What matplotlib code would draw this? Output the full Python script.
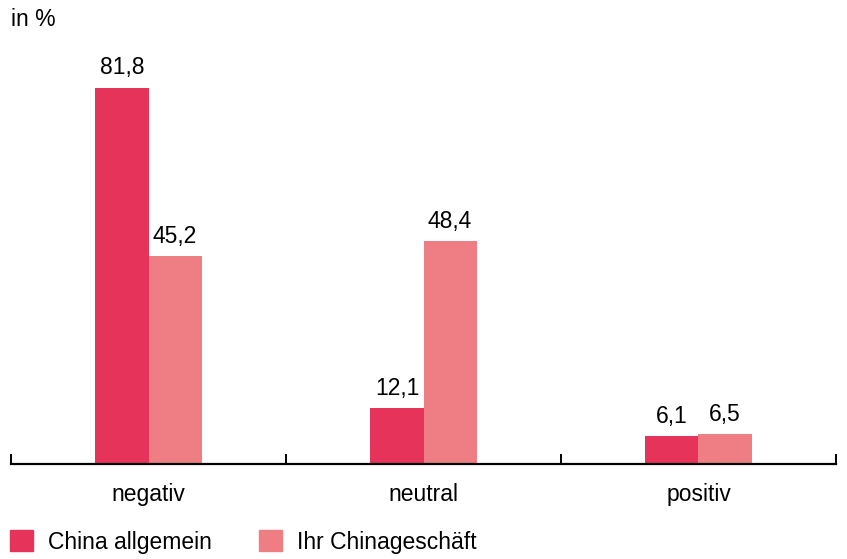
import numpy as np
import matplotlib.pyplot as plt
from matplotlib.patches import Patch

plt.rcParams['font.family'] = ['Liberation Sans', 'DejaVu Sans']

categories = ["negativ", "neutral", "positiv"]
china_allgemein = [81.8, 12.1, 6.1]
ihr_chinageschaeft = [45.2, 48.4, 6.5]
series_names = ["China allgemein", "Ihr Chinageschäft"]
colors = ["#E5335A", "#EE7D84"]

fs = 16.5

fig = plt.figure(figsize=(8.47, 5.59), dpi=100)
ax = fig.add_axes([11 / 847, 95 / 559, 825 / 847, 414 / 559])

x = np.arange(len(categories))
w = 0.193

b1 = ax.bar(x - w / 2, china_allgemein, w, color=colors[0])
b2 = ax.bar(x + w / 2, ihr_chinageschaeft, w, color=colors[1])

for bars, vals in [(b1, china_allgemein), (b2, ihr_chinageschaeft)]:
    for rect, v in zip(bars, vals):
        ax.text(rect.get_x() + rect.get_width() / 2, v + 2.9, f"{v:.1f}".replace(".", ","),
                ha="center", va="baseline", fontsize=fs)

ax.set_xlim(-0.5, 2.5)
ax.set_ylim(0, 90)
for s in ["top", "right", "left"]:
    ax.spines[s].set_visible(False)
ax.spines["bottom"].set_linewidth(1.6)
ax.set_yticks([])

# category separators as ticks, labels centred under each group
ax.set_xticks([-0.5, 0.5, 1.5, 2.5])
ax.set_xticklabels([])
ax.tick_params(axis="x", direction="in", length=7, width=1.4)
for xi, c in zip(x, categories):
    ax.text(xi, -6.6, c, ha="center", va="center", fontsize=fs)

fig.text(11 / 847, 1 - 20 / 559, "in %", ha="left", va="center", fontsize=fs)

handles = [Patch(color=c) for c in colors]
fig.legend(handles, series_names, loc="center left", bbox_to_anchor=(1 / 847, 1 - 542 / 559),
           ncol=2, frameon=False, fontsize=fs, handlelength=1.0, handleheight=1.0,
           handletextpad=0.65, columnspacing=2.05, borderaxespad=0)

fig.savefig("out.png", dpi=100)
